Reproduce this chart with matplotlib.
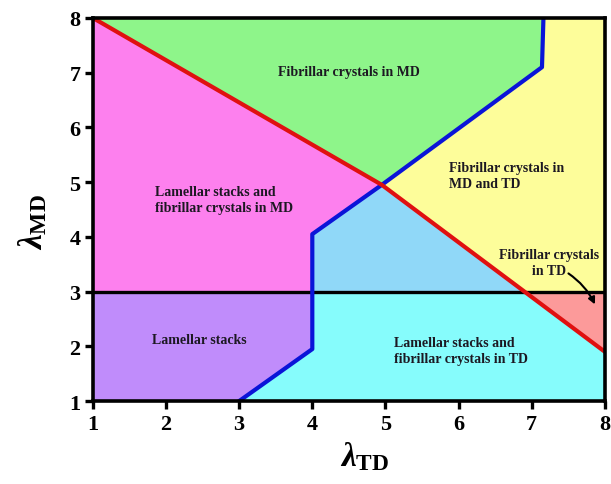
import numpy as np
import matplotlib
matplotlib.use('Agg')
import matplotlib.pyplot as plt
from matplotlib.patches import Polygon

plt.rcParams['font.family'] = 'Liberation Serif'
plt.rcParams['font.weight'] = 'bold'
plt.rcParams['mathtext.fontset'] = 'custom'
plt.rcParams['mathtext.rm'] = 'Liberation Serif:bold'
plt.rcParams['mathtext.it'] = 'Liberation Serif:italic'
plt.rcParams['mathtext.bf'] = 'Liberation Serif:bold'

# boundary lines
red_x = [1.0, 4.95, 8.0]
red_y = [8.0, 4.95, 1.9]
blue_x = [3.0, 4.0, 4.0, 4.95, 7.14, 7.16]
blue_y = [1.0, 1.95, 4.05, 4.95, 7.1, 8.0]
split_y = 3.0
lim = [1, 8]
ticks = [1, 2, 3, 4, 5, 6, 7, 8]

labels = ['Fibrillar crystals in MD',
          'Fibrillar crystals in\nMD and TD',
          'Lamellar stacks and\nfibrillar crystals in MD',
          'Fibrillar crystals\nin TD',
          'Lamellar stacks',
          'Lamellar stacks and\nfibrillar crystals in TD']
label_x = [4.5, 5.87, 1.85, 7.23, 2.46, 5.12]
label_y = [7.03, 5.13, 4.69, 3.54, 2.13, 1.93]
label_ha = ['center', 'left', 'left', 'center', 'center', 'left']

colors = {'green': '#8ef58a', 'yellow': '#fdfd9a', 'pink': '#fd80ee',
          'lightblue': '#90d8f8', 'purple': '#c08cfb', 'cyan': '#86fcfc',
          'salmon': '#fc9a9a'}

# red line crosses the y=3 split
xr3 = np.interp(split_y, red_y[::-1], red_x[::-1])
lo, hi = lim

# regions assembled from the boundary points
R = list(zip(red_x, red_y))
B = list(zip(blue_x, blue_y))
regions = {
    'green': [R[0], R[1], B[4], B[5]],
    'yellow': [B[5], B[4], R[1], (xr3, split_y), (hi, split_y), (hi, hi)],
    'pink': [R[0], R[1], B[2], (blue_x[2], split_y), (lo, split_y)],
    'lightblue': [(blue_x[2], split_y), B[2], R[1], (xr3, split_y)],
    'purple': [(lo, lo), (lo, split_y), (blue_x[2], split_y), B[1], B[0]],
    'cyan': [B[0], B[1], (blue_x[2], split_y), (xr3, split_y), R[2], (hi, lo)],
    'salmon': [(xr3, split_y), (hi, split_y), R[2]],
}

fig = plt.figure(figsize=(6.11, 4.85), dpi=100)
ax = fig.add_axes([0.152, 0.171, 0.838, 0.79])

for name, pts in regions.items():
    ax.add_patch(Polygon(pts, closed=True, facecolor=colors[name],
                         edgecolor='none', zorder=1))

ax.axhline(split_y, color='black', lw=2.4, zorder=3)
ax.plot(blue_x, blue_y, color='#0a14d8', lw=3, zorder=4)
ax.plot(red_x, red_y, color='#e01010', lw=3, zorder=5)

for t, x, y, ha in zip(labels, label_x, label_y, label_ha):
    ax.text(x, y, t, ha=ha, va='center', fontsize=10, fontweight='bold',
            color='#1c1822', linespacing=1.3, zorder=6)

# arrow for the small TD region
ax.annotate('', xy=(7.88, 2.72), xytext=(7.47, 3.36),
            arrowprops=dict(arrowstyle='-|>', color='black', lw=1.5,
                            connectionstyle='arc3,rad=-0.15'), zorder=6)

ax.set_xlim(lim)
ax.set_ylim(lim)
ax.set_xticks(ticks)
ax.set_yticks(ticks)
for sp in ax.spines.values():
    sp.set_linewidth(2.6)
    sp.set_zorder(7)
ax.tick_params(width=2.4, length=6, labelsize=16, pad=3)
for lab in ax.get_xticklabels() + ax.get_yticklabels():
    lab.set_fontweight('bold')

ax.set_xlabel(r'$\lambda_{\mathbf{TD}}$', fontsize=24, labelpad=0)
ax.xaxis.set_label_coords(0.53, -0.1)
ax.set_ylabel(r'$\lambda_{\mathbf{MD}}$', fontsize=24, labelpad=2)
ax.yaxis.set_label_coords(-0.085, 0.47)

fig.savefig('out.png', dpi=100)
